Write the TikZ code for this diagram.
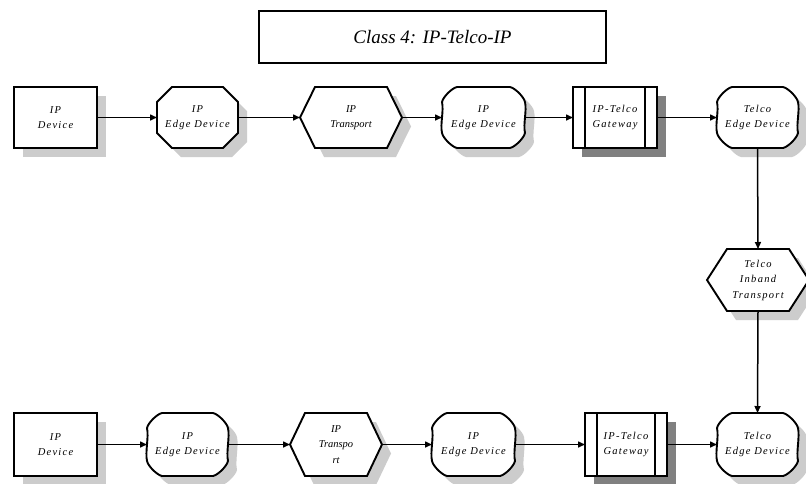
\documentclass[tikz,border=0pt]{standalone}
\usepackage{fontspec}
\setmainfont{Liberation Serif}
\usetikzlibrary{calc,arrows.meta}
\pgfdeclarelayer{bg}
\pgfsetlayers{bg,main}

% label fonts
\newcommand\spacedlabel{\itshape\fontsize{10.5}{15.5}\selectfont\addfontfeatures{LetterSpace=12}}
\newcommand\plainlabel{\itshape\fontsize{10.5}{15.5}\selectfont}

% outlines built from the anchors of a (borderless) node
\newcommand\rectpath[1]{(#1.north west) rectangle (#1.south east)}
\newcommand\octpath[1]{($(#1.north west)+(15,0)$) -- ($(#1.north east)+(-15,0)$) -- ($(#1.north east)+(0,15)$) -- ($(#1.south east)+(0,-15)$) -- ($(#1.south east)+(-15,0)$) -- ($(#1.south west)+(15,0)$) -- ($(#1.south west)+(0,-15)$) -- ($(#1.north west)+(0,15)$) -- cycle}
\newcommand\wavypath[1]{($(#1.north west)+(15,0)$) -- ($(#1.north east)+(-15,0)$)
  .. controls ($(#1.north east)+(-10,1)$) and ($(#1.north east)+(-1,10)$) .. ($(#1.north east)+(0,15)$)
  .. controls ($(#1.north east)+(2,24)$) and ($(#1.south east)+(-2,-24)$) .. ($(#1.south east)+(0,-15)$)
  .. controls ($(#1.south east)+(-1,-10)$) and ($(#1.south east)+(-10,-1)$) .. ($(#1.south east)+(-15,0)$)
  -- ($(#1.south west)+(15,0)$)
  .. controls ($(#1.south west)+(10,-1)$) and ($(#1.south west)+(1,-10)$) .. ($(#1.south west)+(0,-15)$)
  .. controls ($(#1.south west)+(-2,-24)$) and ($(#1.north west)+(2,24)$) .. ($(#1.north west)+(0,15)$)
  .. controls ($(#1.north west)+(1,10)$) and ($(#1.north west)+(10,1)$) .. ($(#1.north west)+(15,0)$) -- cycle}
\newcommand\hexpath[2]{(#1.west) -- ($(#1.north west)+(#2,0)$) -- ($(#1.north east)+(-#2,0)$) -- (#1.east) -- ($(#1.south east)+(-#2,0)$) -- ($(#1.south west)+(#2,0)$) -- cycle}

% shape with an offset shadow behind it
\newcommand\shadowed[2]{%
  \fill[#1, transform canvas={shift={(9pt,-9pt)}}] #2;
  \filldraw[shapeline] #2;}

\newcommand\gatebars[1]{%
  \draw[shapeline] ($(#1.north west)+(12,0)$) -- ($(#1.south west)+(12,0)$);
  \draw[shapeline] ($(#1.north east)+(-12,0)$) -- ($(#1.south east)+(-12,0)$);}

\definecolor{lightshadow}{RGB}{204,204,204}
\definecolor{darkshadow}{RGB}{128,128,128}

\tikzset{
  lbl/.style={inner sep=0pt, outer sep=0pt, align=center, font=\spacedlabel},
  shapeline/.style={fill=white, draw=black, line width=1.9pt, line join=miter},
  conn/.style={line width=1.5pt, -{Triangle[length=7pt,width=6pt]}},
}

\begin{document}
\begin{tikzpicture}[x=1pt,y=-1pt]
\useasboundingbox (0,0) rectangle (806,483);
\begin{pgfonlayer}{bg}
  \fill[white] (0,0) rectangle (806,483);
\end{pgfonlayer}

% title
\node[draw, line width=1.9pt, minimum width=347pt, minimum height=52pt, inner sep=0pt,
      font=\itshape\fontsize{19}{22}\selectfont] (title) at (432.5,37) {Class 4: IP-Telco-IP};

% upper row
\node[lbl, minimum width=83pt, minimum height=61pt] (d1) at (55.5,117.5) {IP\\Device};
\node[lbl, minimum width=81pt, minimum height=61pt] (e1) at (197.5,117.5) {IP\\Edge Device};
\node[lbl, minimum width=102pt, minimum height=61pt, font=\plainlabel] (t1) at (351,117.5) {IP\\Transport};
\node[lbl, minimum width=83pt, minimum height=61pt] (e2) at (483.5,117.5) {IP\\Edge Device};
\node[lbl, minimum width=84pt, minimum height=61pt] (g1) at (615,117.5) {IP-Telco\\Gateway};
\node[lbl, minimum width=81pt, minimum height=61pt] (te1) at (757.5,117.5) {Telco\\Edge Device};

% right column
\node[lbl, minimum width=102pt, minimum height=62pt] (tr) at (758,280) {Telco\\Inband\\{\plainlabel Transport}};

% lower row
\node[lbl, minimum width=83pt, minimum height=63pt] (d2) at (55.5,444.5) {IP\\Device};
\node[lbl, minimum width=81pt, minimum height=63pt] (e3) at (187.5,444.5) {IP\\Edge Device};
\node[lbl, minimum width=92pt, minimum height=63pt, font=\plainlabel] (t2) at (336,444.5) {IP\\Transpo\\rt};
\node[lbl, minimum width=83pt, minimum height=63pt] (e4) at (473.5,444.5) {IP\\Edge Device};
\node[lbl, minimum width=82pt, minimum height=63pt] (g2) at (626,444.5) {IP-Telco\\Gateway};
\node[lbl, minimum width=81pt, minimum height=63pt] (te2) at (757.5,444.5) {Telco\\Edge Device};

\begin{pgfonlayer}{bg}
  \shadowed{lightshadow}{\rectpath{d1}}
  \shadowed{lightshadow}{\octpath{e1}}
  \shadowed{lightshadow}{\hexpath{t1}{15}}
  \shadowed{lightshadow}{\wavypath{e2}}
  \shadowed{darkshadow}{\rectpath{g1}}
  \gatebars{g1}
  \shadowed{lightshadow}{\wavypath{te1}}
  \shadowed{lightshadow}{\hexpath{tr}{20}}
  \shadowed{lightshadow}{\rectpath{d2}}
  \shadowed{lightshadow}{\wavypath{e3}}
  \shadowed{lightshadow}{\hexpath{t2}{15}}
  \shadowed{lightshadow}{\wavypath{e4}}
  \shadowed{darkshadow}{\rectpath{g2}}
  \gatebars{g2}
  \shadowed{lightshadow}{\wavypath{te2}}
\end{pgfonlayer}

% connectors
\draw[conn] (d1.east) -- (e1.west);
\draw[conn] (e1.east) -- (t1.west);
\draw[conn] (t1.east) -- (e2.west);
\draw[conn] (e2.east) -- (g1.west);
\draw[conn] (g1.east) -- (te1.west);
\draw[conn] (te1.south) -- (tr.north);
\draw[conn] (tr.south) -- (te2.north);
\draw[conn] (d2.east) -- (e3.west);
\draw[conn] (e3.east) -- (t2.west);
\draw[conn] (t2.east) -- (e4.west);
\draw[conn] (e4.east) -- (g2.west);
\draw[conn] (g2.east) -- (te2.west);
\end{tikzpicture}
\end{document}
